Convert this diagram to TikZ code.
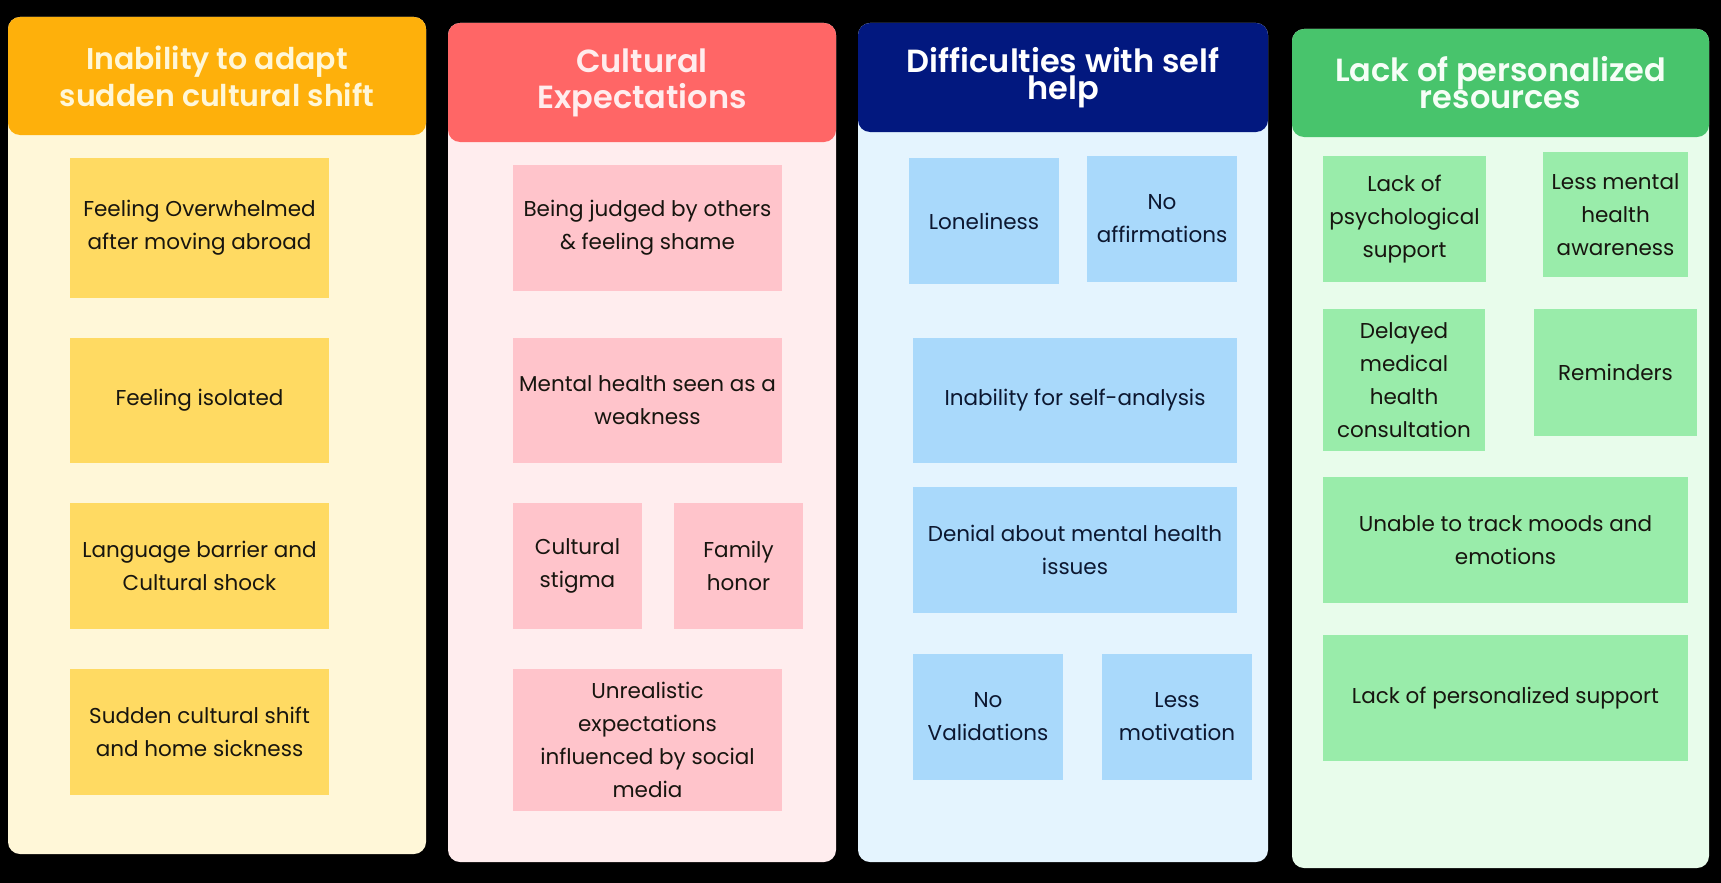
\documentclass[tikz,border=0pt]{standalone}
\usepackage{fontspec}
\setmainfont{Poppins}[BoldFont={Poppins SemiBold}]
\usepackage{xcolor}
\usepackage{tikz}
\usetikzlibrary{positioning}
\definecolor{Amber}{HTML}{FEB00B}
\definecolor{Cream}{HTML}{FFF7D8}
\definecolor{Butter}{HTML}{FFDA62}
\definecolor{Coral}{HTML}{FF6666}
\definecolor{Blush}{HTML}{FFEDEE}
\definecolor{Rose}{HTML}{FFC4CB}
\definecolor{Navy}{HTML}{02187F}
\definecolor{Frost}{HTML}{E4F4FE}
\definecolor{Sky}{HTML}{A9D9FB}
\definecolor{Leaf}{HTML}{48C46C}
\definecolor{Mint}{HTML}{E8FCEB}
\definecolor{Sage}{HTML}{99ECAA}
\definecolor{Ink}{HTML}{17150F}
\definecolor{NavyInk}{HTML}{0C1730}

\begin{document}
\begin{tikzpicture}[x=1pt, y=-1pt, font=\fontsize{21.5}{33}\selectfont]
\tikzset{panel/.style={rounded corners=12pt, inner sep=0pt}, head/.style={rounded corners=12pt, inner sep=0pt, align=center, font=\bfseries\fontsize{32}{36}\selectfont}, tighthead/.style={head, font=\bfseries\fontsize{32}{27}\selectfont}, card/.style={inner sep=0pt, align=center, text=Ink}}
\fill[black] (0,0) rectangle (1721,883);
% panels
\node[panel, fill=Cream, minimum width=418, minimum height=837] (adapt) at (217,435.5) {};
\node[panel, fill=Blush, minimum width=388, minimum height=839] (culture) at (642,442.5) {};
\node[panel, fill=Frost, minimum width=410, minimum height=839] (selfhelp) at (1063,442.5) {};
\node[panel, fill=Mint, minimum width=417, minimum height=839] (resources) at (1500.5,448.5) {};
\node[head, fill=Amber, text=Cream, minimum width=418, minimum height=118, font=\bfseries\fontsize{30}{37}\selectfont] (adapthead) at (217,76) {Inability to adapt\\sudden cultural shift};
\node[head, fill=Coral, text=Blush, minimum width=388, minimum height=119] (culturehead) at (642,82.5) {Cultural\\Expectations};
\node[tighthead, fill=Navy, text=white, minimum width=410, minimum height=109] (selfhelphead) at (1063,77.5) {Difficulties with self\\help};
\node[tighthead, fill=Leaf, text=white!60!Mint, minimum width=417, minimum height=108] (resourceshead) at (1500.5,83) {Lack of personalized\\resources};
% cards
\foreach \name/\x/\y/\w/\h/\label in {overwhelmed/199.5/228/259/140/Feeling Overwhelmed\\after moving abroad, isolated/199.5/400.5/259/125/Feeling isolated, language/199.5/566/259/126/Language barrier and\\Cultural shock, homesick/199.5/732/259/126/Sudden cultural shift\\and home sickness} {
  \node[card, fill=Butter, minimum width=\w, minimum height=\h] (\name) at (\x,\y) {\label};
}
\foreach \name/\x/\y/\w/\h/\label in {judged/647.5/228/269/126/Being judged by others\\\& feeling shame, weakness/647.5/400.5/269/125/Mental health seen as a\\weakness, stigma/577.5/566/129/126/Cultural\\stigma, honor/738.5/566/129/126/Family\\honor, unrealistic/647.5/740/269/142/Unrealistic\\expectations\\influenced by social\\media} {
  \node[card, fill=Rose, minimum width=\w, minimum height=\h] (\name) at (\x,\y) {\label};
}
\foreach \name/\x/\y/\w/\h/\label in {lonely/984/221/150/126/Loneliness, affirm/1162/219/150/126/No\\affirmations, analysis/1075/400.5/324/125/Inability for self-analysis, denial/1075/550/324/126/Denial about mental health\\issues, validate/988/717/150/126/No\\Validations, motivate/1177/717/150/126/Less\\motivation} {
  \node[card, fill=Sky, text=NavyInk, minimum width=\w, minimum height=\h] (\name) at (\x,\y) {\label};
}
\foreach \name/\x/\y/\w/\h/\label in {psych/1404.5/219/163/126/Lack of\\psychological\\support, aware/1615.5/214.5/145/125/Less mental\\health\\awareness, delayed/1404/380/162/142/Delayed\\medical\\health\\consultation, remind/1615.5/372.5/163/127/Reminders, moods/1505.5/540/365/126/Unable to track moods and\\emotions, personal/1505.5/698/365/126/Lack of personalized support} {
  \node[card, fill=Sage, minimum width=\w, minimum height=\h] (\name) at (\x,\y) {\label};
}
\end{tikzpicture}
\end{document}
